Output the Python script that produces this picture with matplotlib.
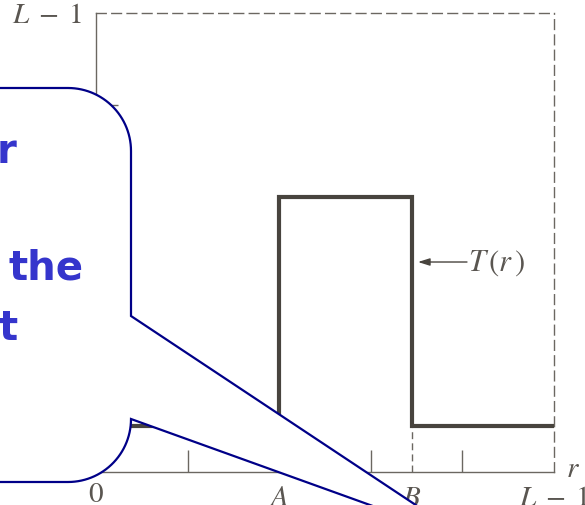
import numpy as np
import matplotlib
matplotlib.use("Agg")
import matplotlib.pyplot as plt
from matplotlib.path import Path
from matplotlib.patches import PathPatch

plt.rcParams["mathtext.fontset"] = "stix"

# piecewise-constant transformation T(r), in units of L-1
A = 0.40
B = 0.69
r_pts = [0.0, A, A, B, B, 1.0]
t_pts = [0.10, 0.10, 0.60, 0.60, 0.10, 0.10]
x_ticks = [0.2, 0.4, 0.6, 0.8]
y_ticks = [0.8]
x_labels = ["$0$", "$A$", "$B$", r"$L\;-\;1$"]
x_label_pos = [0.0, A, B, 1.0]
x_label_drop = [-5, -8, -8, -8]

line_col = "#48443e"
axis_col = "#6b6761"
text_col = "#5a5651"
blue_txt = "#3535cc"
navy = "#000088"

W, H = 585, 506
fig = plt.figure(figsize=(W / 100, H / 100), dpi=100)
ax = fig.add_axes([96 / W, 33 / H, 458 / W, 459 / H])
ax.set_xlim(0, 1)
ax.set_ylim(0, 1)

for side in ("left", "bottom"):
    ax.spines[side].set_color(axis_col)
    ax.spines[side].set_linewidth(1.0)
for side in ("top", "right"):
    ax.spines[side].set_color(axis_col)
    ax.spines[side].set_linewidth(1.0)
    ax.spines[side].set_linestyle((0, (7, 4)))

ax.set_xticks(x_ticks)
ax.set_yticks(y_ticks)
ax.tick_params(direction="in", length=16, width=1.0, color=axis_col,
               labelbottom=False, labelleft=False)

# the mapping itself
ax.plot(r_pts, t_pts, color=line_col, lw=3, solid_joinstyle="miter",
        solid_capstyle="butt", zorder=3)
# dashed drop from B to the r axis
ax.plot([B, B], [0, t_pts[-1]], color=axis_col, lw=1.0,
        linestyle=(0, (5, 3)), zorder=2)

# axis labels
for s, xp, dy in zip(x_labels, x_label_pos, x_label_drop):
    ax.annotate(s, xy=(xp, 0), xytext=(0, dy), textcoords="offset points",
                ha="center", va="top", fontsize=21, color=text_col,
                annotation_clip=False)
ax.annotate(r"$L\;-\;1$", xy=(0, 1), xytext=(-10, -1),
            textcoords="offset points", ha="right", va="center",
            fontsize=21, color=text_col, annotation_clip=False)
ax.annotate("$r$", xy=(1, 0), xytext=(9, -3), textcoords="offset points",
            ha="left", va="baseline", fontsize=21, color=text_col,
            annotation_clip=False)

# T(r) pointer
ay = 0.4575
ax.annotate("", xy=(B + 0.013, ay), xytext=(0.81, ay),
            arrowprops=dict(arrowstyle="-|>,head_length=0.7,head_width=0.22",
                            color=line_col, lw=1.0, shrinkA=0, shrinkB=0))
ax.text(0.813, ay, r"$T\,(r\,)$", ha="left", va="center", fontsize=22,
        color=text_col)

# speech-bubble callout on an overlay in pixel units
ov = fig.add_axes([0, 0, 1, 1], zorder=5)
ov.set_xlim(0, W)
ov.set_ylim(H, 0)
ov.set_axis_off()

xr, top, bot, R = 131, 89, 483, 63
tail_top, tail_bot, tip = 317, bot - R, (470, 542)


def arc(cx, cy, a0, a1, n=30):
    t = np.radians(np.linspace(a0, a1, n))
    return list(zip(cx + R * np.cos(t), cy + R * np.sin(t)))


verts = [(-100, top), (xr - R, top)]
verts += arc(xr - R, top + R, -90, 0)
verts += [(xr, tail_top), tip, (xr, tail_bot)]
verts += arc(xr - R, bot - R, 0, 90)
verts += [(-100, bot), (-100, top)]
codes = [Path.MOVETO] + [Path.LINETO] * (len(verts) - 1)
ov.add_patch(PathPatch(Path(verts, codes), facecolor="white",
                       edgecolor=navy, lw=1.6, joinstyle="miter"))

ov.text(16, 163, "r", ha="right", va="baseline", fontsize=29,
        fontweight="bold", color=blue_txt, family="DejaVu Sans")
ov.text(84, 280, "the", ha="right", va="baseline", fontsize=29,
        fontweight="bold", color=blue_txt, family="DejaVu Sans")
ov.text(18, 340, "t", ha="right", va="baseline", fontsize=29,
        fontweight="bold", color=blue_txt, family="DejaVu Sans")

fig.savefig("out.png", dpi=100)
